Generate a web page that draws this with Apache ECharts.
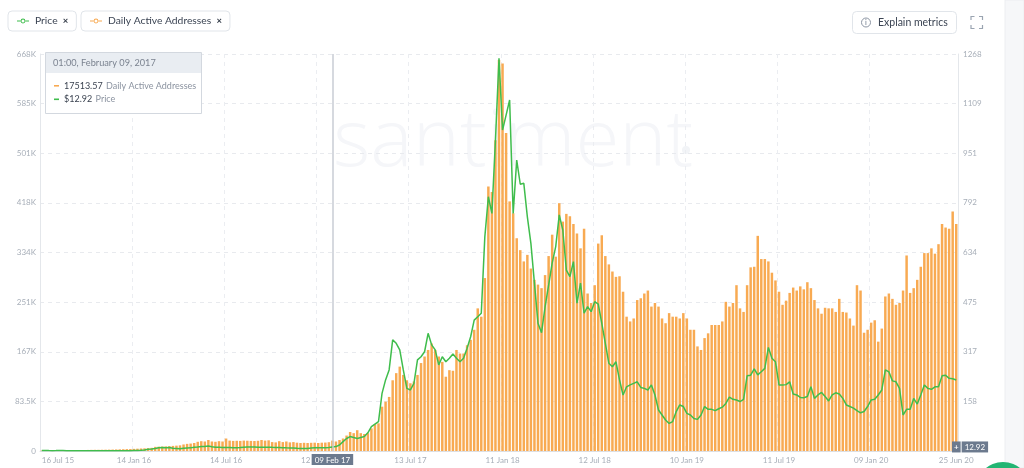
<!DOCTYPE html>
<html><head><meta charset="utf-8">
<script src="https://cdn.jsdelivr.net/npm/echarts@6/dist/echarts.min.js"></script>
<style>html,body{margin:0;padding:0;background:#fff}#c{width:1024px;height:468px}</style>
</head><body><div id="c"></div>
<script>
// ---- data (weekly, starting Thursday 16 Jul 2015) ----
const firstWeek = [2015, 6, 16];
const daaThousands = [
 0.6,0.8,0.9,1.0,1.1,1.2,1.2,1.3,1.4,1.5,
 1.5,1.6,1.7,1.8,1.9,2.0,2.0,2.1,2.2,2.3,2.4,2.6,
 2.8,3.0,3.2,3.4,3.6,3.9,4.2,4.5,4.8,5.3,
 7.0,7.3,7.5,7.8,8.2,8.6,9.0,9.5,
 11.0,12.0,12.5,13.5,15.5,16.5,16.0,18.5,
 16.0,15.5,16.5,16.0,
 21.0,
 17.5,17.0,17.2,17.0,17.5,17.3,17.0,16.8,17.2,
 18.5,17.5,18.0,
 15.0,14.5,16.5,15.0,16.0,14.5,15.0,
 14.0,13.5,13.8,13.5,13.8,14.0,13.5,14.0,14.2,14.8,
 17.5,16,18.5,21,26,32,30,35,30,28.6,30,38,45,46.6,
 74.6,83,91,119,131,142,128,119,114,117,128,148,159,170,181,
 170,159,150,125,136,135,170,164,164,178,187,204,240,226,291,
 445,436,523,658,652,535,420,400,358,338,319,330,307,288,280,
 274,296,328,364,327,417,386,399,395,382,366,341,374,265,249,279,349,363,328,314,
 302,293,294,268,226,218,223,254,257,265,270,243,249,243,223,215,232,226,226,223,
 232,223,204,204,176,170,190,198,212,212,212,218,251,243,249,279,240,234,279,
 309,310,362,323,323,319,300,287,268,246,253,266,275,270,277,272,284,274,254,240,
 231,241,240,240,234,256,234,233,223,211,279,270,199,204,216,220,184,206,260,265,
 256,246,249,270,329,266,274,288,310,333,333,341,332,348,382,376,374,403,382
];
const priceUsd = [
 1.8,1.5,1.2,1.1,1.2,1.4,1.2,1.0,0.9,0.9,
 0.8,0.7,0.6,0.5,0.9,1.0,0.9,0.9,0.8,0.9,
 0.9,0.9,0.9,0.9,0.9,1.0,1.3,1.6,2.3,3.5,
 5.5,6.5,7.8,10.5,11.5,10.5,11,8.5,8,7.5,
 8.8,9.5,10,12,12.5,14,14.5,16,13.5,12,
 12,11,11,11,10.5,10.5,11,12,12.5,12.8,
 12.5,12,12,12.2,11.8,11.6,11.5,11,10.5,10,
 9.8,9.5,8.5,8,8,8.2,9.7,10.5,10,10.5,10.7,11.4,
 12.92,14,19,30,40,46,43,40,43,46,
 58,78,86,94,184,227,259,355,344,323,
 259,200,195,216,291,301,317,376,339,323,
 275,301,285,296,310,296,285,296,328,365,
 418,429,440,684,812,759,993,1254,1025,1073,
 1121,759,929,852,855,748,663,536,408,378,
 460,530,600,653,754,706,578,557,605,472,
 536,440,461,445,477,469,408,344,280,269,
 285,227,179,205,211,216,221,203,200,195,
 211,179,131,115,99,88,94,126,147,142,
 120,115,104,101,115,142,133,133,129,135,
 140,152,172,165,163,158,165,240,242,262,
 243,253,264,331,296,285,211,211,212,221,
 182,179,171,170,174,205,168,179,187,174,
 160,179,186,182,168,147,142,137,129,122,
 126,142,163,165,179,195,259,253,224,221,
 200,115,133,133,168,150,179,211,200,197,
 205,205,240,242,232,231,227
];
const leftTickLabels = ['0','83.5K','167K','251K','334K','418K','501K','585K','668K'];
const rightTickLabels = ['','158','317','475','634','792','951','1109','1268'];
const markerDate = '09 Feb 17';
const markerPrice = 12.92;
const tooltipTitle = '01:00, February 09, 2017';
const tooltipDaa = '17513.57';
const tooltipPrice = '$12.92';
const labelEvery = 26;

const MONTHS = ['Jan','Feb','Mar','Apr','May','Jun','Jul','Aug','Sep','Oct','Nov','Dec'];
function fmt(d){return String(d.getUTCDate()).padStart(2,'0')+' '+MONTHS[d.getUTCMonth()]+' '+String(d.getUTCFullYear()).slice(2);}
const t0 = Date.UTC(firstWeek[0], firstWeek[1], firstWeek[2]);
const categories = daaThousands.map((_, i) => fmt(new Date(t0 + i * 7 * 864e5)));
const lastIdx = categories.length - 1;

const FONT = 'Lato, "Open Sans", sans-serif';
const ORANGE = '#f8aa52';
const GREEN = '#3fbd4c';
const AXIS_TXT = '#a7aeb8';
const ICON = 'path://M0,4.3L6,4.3L6,5.7L0,5.7Z M14,4.3L20,4.3L20,5.7L14,5.7Z M14,5A4,4 0 1,0 6,5A4,4 0 1,0 14,5Z M12.5,5A2.5,2.5 0 1,1 7.5,5A2.5,2.5 0 1,1 12.5,5Z';

function legendBox(name, left, color){
  return {
    data:[{name, icon: ICON, itemStyle:{color}}],
    left, top: 11, orient:'horizontal',
    padding:[5,8,5,9], backgroundColor:'#fff', borderColor:'#e1e5ea', borderWidth:1, borderRadius:4,
    itemWidth:12, itemHeight:6, itemGap:0, selectedMode:false,
    formatter: n => '{n|' + n + '}  {x|×}',
    textStyle:{fontFamily:FONT, fontSize:10.3, color:'#3b4453', padding:[0,0,0,1],
      rich:{n:{fontFamily:FONT, fontSize:10.3, lineHeight:13, color:'#3b4453'}, x:{fontFamily:FONT, fontSize:9.5, fontWeight:'bold', color:'#2f3744'}}}
  };
}

const chart = echarts.init(document.getElementById('c'), null, {renderer:'canvas'});
chart.setOption({
  animation:false,
  backgroundColor:'#fff',
  legend:[ legendBox('Price', 8, GREEN), legendBox('Daily Active Addresses', 81, ORANGE) ],
  grid:{left:40, right:66, top:54, bottom:17, containLabel:false},
  xAxis:{
    type:'category', data:categories, boundaryGap:true,
    axisLine:{lineStyle:{color:'#dcdfe4'}}, axisTick:{show:false},
    axisLabel:{interval:(i)=> i % labelEvery === 0 || i === lastIdx, color:AXIS_TXT, fontSize:8, fontFamily:FONT, margin:5, alignMinLabel:'left'},
    splitLine:{show:true, interval:(i)=> i % labelEvery === 0 && i > 0, lineStyle:{color:'#ebedf1', type:[4,4]}}
  },
  yAxis:[
    {type:'value', min:0, max:668, interval:83.5, position:'left',
     axisLine:{show:true, lineStyle:{color:'#e4e7eb'}}, axisTick:{show:false},
     axisLabel:{formatter:(v)=>leftTickLabels[Math.round(v/83.5)], color:AXIS_TXT, fontSize:8, fontFamily:FONT, margin:4},
     splitLine:{show:true, lineStyle:{color:'#e8eaee', type:[4,4]}}},
    {type:'value', min:0, max:1268, interval:158.5, position:'right',
     axisLine:{show:true, lineStyle:{color:'#e4e7eb'}}, axisTick:{show:false},
     axisLabel:{formatter:(v)=>rightTickLabels[Math.round(v/158.5)], color:AXIS_TXT, fontSize:8, fontFamily:FONT, margin:5},
     splitLine:{show:false}}
  ],
  series:[
    {name:'Daily Active Addresses', type:'bar', yAxisIndex:0, data:daaThousands,
     itemStyle:{color:ORANGE}, barCategoryGap:'30%', z:2,
     markLine:{silent:true, symbol:'none', animation:false,
       data:[{xAxis:markerDate}],
       lineStyle:{color:'#c9cdd4', width:1.5, type:'solid'},
       label:{show:true, position:'start', formatter:markerDate, color:'#fff', backgroundColor:'#6c7a8e',
              padding:[2,3,1,3], fontSize:8, fontFamily:FONT, distance:3}}},
    {name:'Price', type:'line', yAxisIndex:1, data:priceUsd, showSymbol:false, symbol:'none',
     lineStyle:{color:GREEN, width:1.5}, itemStyle:{color:GREEN}, z:3,
     markLine:{silent:true, symbol:'none', animation:false,
       data:[{yAxis:markerPrice}], lineStyle:{color:'rgba(0,0,0,0)', width:0},
       label:{show:true, position:'end', distance:-6, formatter:'{p|+}{g| }{v|12.92}',
         rich:{p:{backgroundColor:'#6c7a8e', color:'#fff', padding:[2,2,1,2], fontSize:8, fontWeight:'bold', fontFamily:FONT},
               g:{fontSize:2, width:1},
               v:{backgroundColor:'#6c7a8e', color:'#fff', padding:[2,3,1,3], fontSize:8, fontFamily:FONT}}}}}
  ],
  graphic:[
    {type:'text', left:333, top:103, z:-5, silent:true,
     style:{text:'santiment', font:'300 80px "Open Sans", sans-serif', fill:'#f5f6f9'}},
    {type:'circle', shape:{cx:686, cy:150, r:4}, z:-5, style:{fill:'#f2f4f7'}},
    // right side panel
    {type:'rect', shape:{x:1005, y:0, width:19, height:468}, z:50, style:{fill:'#f6f7f9', stroke:'#eceef1'}},
    {type:'circle', shape:{cx:1003, cy:489, r:27}, z:51, style:{fill:'#22b573'}},
    // explain metrics button
    {type:'rect', shape:{x:852.5, y:11.5, width:104, height:22, r:4}, z:50, style:{fill:'#fff', stroke:'#e1e5ea'}},
    {type:'circle', shape:{cx:866, cy:22.5, r:4.5}, z:51, style:{fill:'none', stroke:'#8d96a4', lineWidth:1}},
    {type:'text', x:866, y:22.5, z:52, style:{text:'i', font:'bold 7px '+FONT, fill:'#8d96a4', align:'center', verticalAlign:'middle'}},
    {type:'text', x:878, y:22.5, z:51, style:{text:'Explain metrics', font:'10.5px '+FONT, fill:'#3b4453', verticalAlign:'middle'}},
    // fullscreen icon
    {type:'polyline', shape:{points:[[971,20],[971,16.5],[974.5,16.5]]}, z:51, style:{stroke:'#9aa4b1', lineWidth:1.2, fill:'none'}},
    {type:'polyline', shape:{points:[[979,16.5],[982.5,16.5],[982.5,20]]}, z:51, style:{stroke:'#9aa4b1', lineWidth:1.2, fill:'none'}},
    {type:'polyline', shape:{points:[[971,25],[971,28.5],[974.5,28.5]]}, z:51, style:{stroke:'#9aa4b1', lineWidth:1.2, fill:'none'}},
    {type:'polyline', shape:{points:[[979,28.5],[982.5,28.5],[982.5,25]]}, z:51, style:{stroke:'#9aa4b1', lineWidth:1.2, fill:'none'}},
    // tooltip
    {type:'group', x:45, y:52, z:100, children:[
      {type:'rect', shape:{x:0.5, y:0.5, width:156, height:61}, z:100, style:{fill:'#fff', stroke:'#d3d8df', lineWidth:1}},
      {type:'rect', shape:{x:1, y:1, width:155, height:20}, z:101, style:{fill:'#e9edf2'}},
      {type:'text', x:8, y:11, z:102, style:{text:tooltipTitle, font:'9.2px '+FONT, fill:'#7b8390', verticalAlign:'middle'}},
      {type:'rect', shape:{x:9, y:33, width:5, height:1.6}, z:102, style:{fill:ORANGE}},
      {type:'text', x:19, y:34, z:102, style:{text:'{v|'+tooltipDaa+'} {n|Daily Active Addresses}', verticalAlign:'middle',
        rich:{v:{font:'9px '+FONT, fill:'#3a4250'}, n:{font:'9px '+FONT, fill:'#8b93a0'}}}},
      {type:'rect', shape:{x:9, y:46.5, width:5, height:1.6}, z:102, style:{fill:GREEN}},
      {type:'text', x:19, y:47.5, z:102, style:{text:'{v|'+tooltipPrice+'} {n|Price}', verticalAlign:'middle',
        rich:{v:{font:'9px '+FONT, fill:'#3a4250'}, n:{font:'9px '+FONT, fill:'#8b93a0'}}}}
    ]}
  ]
});
</script></body></html>
